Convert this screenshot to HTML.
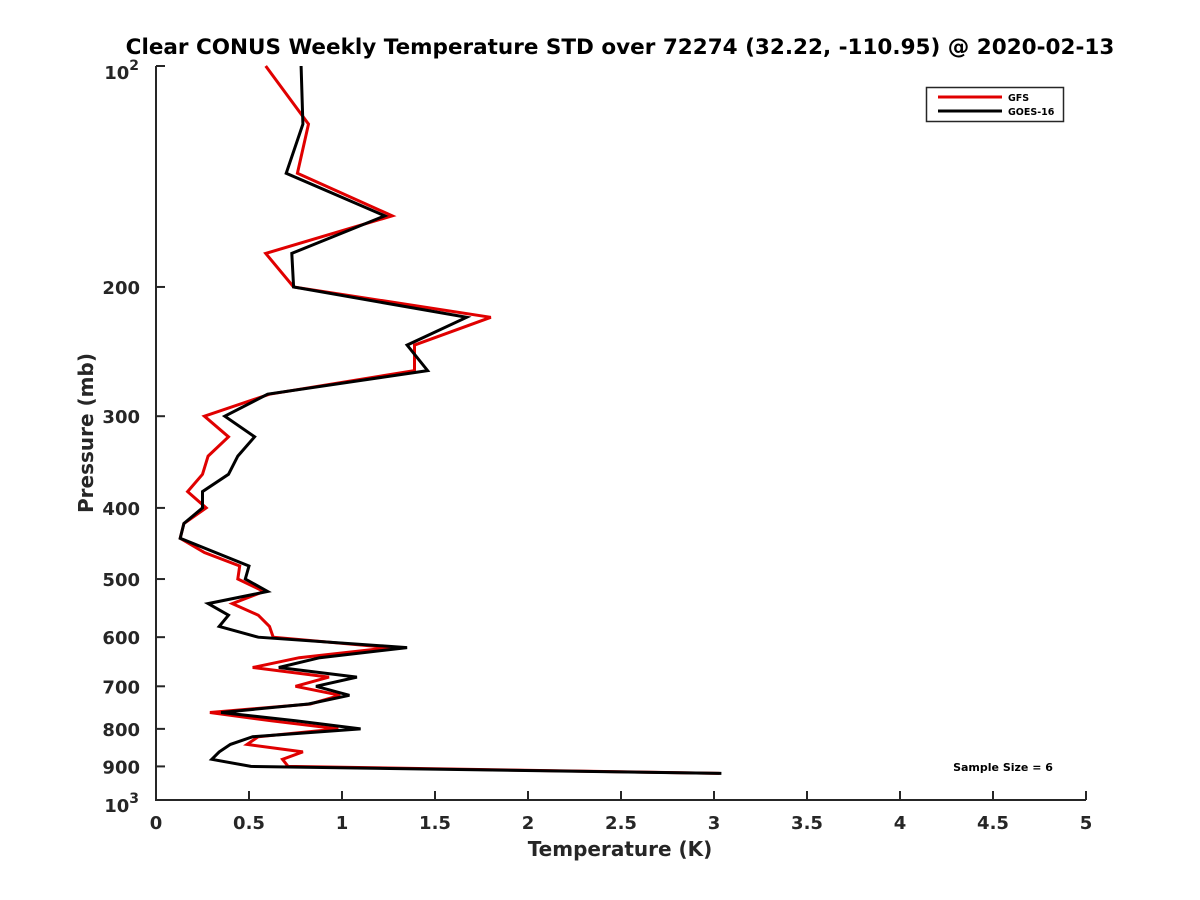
<!DOCTYPE html>
<html><head><meta charset="utf-8">
<style>
body{margin:0;background:#fff;}
svg{display:block;font-family:"DejaVu Sans","Liberation Sans",sans-serif;}
</style></head>
<body>
<svg id="chart" width="1200" height="900" viewBox="0 0 1200 900">
<rect width="1200" height="900" fill="#fff"/>
<text x="620" y="54" text-anchor="middle" font-size="21.5" font-weight="bold" fill="#000">Clear CONUS Weekly Temperature STD over 72274 (32.22, -110.95) @ 2020-02-13</text>
<g id="axes"></g>
<g id="series"></g>
<text x="620" y="856" text-anchor="middle" font-size="20" font-weight="bold" fill="#262626">Temperature (K)</text>
<text transform="translate(93,433) rotate(-90)" text-anchor="middle" font-size="20" font-weight="bold" fill="#262626">Pressure (mb)</text>
<g>
<rect x="926.5" y="87.5" width="137" height="34" fill="#fff" stroke="#262626" stroke-width="1.5"/>
<line x1="938" y1="97" x2="1002" y2="97" stroke="#e00000" stroke-width="3"/>
<text x="1008" y="101" font-size="9.5" font-weight="bold" fill="#000">GFS</text>
<line x1="938" y1="111" x2="1002" y2="111" stroke="#000" stroke-width="3"/>
<text x="1008" y="115" font-size="9.5" font-weight="bold" fill="#000">GOES-16</text>
</g>
<text x="1003" y="771" text-anchor="middle" font-size="11" font-weight="bold" fill="#000">Sample Size = 6</text>
</svg>
<script>
const levels = [100,120,140,160,180,200,220,240,260,280,300,320,340,360,380,400,420,440,460,480,500,520,540,560,580,600,620,640,660,680,700,720,740,760,780,800,820,840,860,880,900,920];
const gfsStd = [0.59,0.82,0.76,1.27,0.59,0.74,1.80,1.39,1.39,0.61,0.26,0.39,0.28,0.25,0.17,0.27,0.15,0.13,0.26,0.45,0.44,0.58,0.41,0.55,0.61,0.63,1.26,0.77,0.52,0.93,0.75,0.99,0.83,0.29,0.62,0.98,0.55,0.49,0.79,0.68,0.71,3.03];
const goesStd = [0.78,0.79,0.70,1.23,0.73,0.74,1.67,1.35,1.46,0.60,0.37,0.53,0.44,0.39,0.25,0.25,0.15,0.13,0.32,0.50,0.48,0.60,0.28,0.39,0.34,0.55,1.35,0.88,0.66,1.08,0.86,1.04,0.82,0.35,0.75,1.10,0.52,0.40,0.34,0.30,0.51,3.04];
const xTicks = [0,0.5,1,1.5,2,2.5,3,3.5,4,4.5,5];
const xTickLabels = ["0","0.5","1","1.5","2","2.5","3","3.5","4","4.5","5"];
const yTicks = [200,300,400,500,600,700,800,900];
const yTickLabels = ["200","300","400","500","600","700","800","900"];

const X0=156,X1=1086,Y0=66,Y1=800;
function xs(v){return X0+(v-0)/(5-0)*(X1-X0);}
function ys(p){return Y0+(Math.log10(p)-2)/(3-2)*(Y1-Y0);}
const NS="http://www.w3.org/2000/svg";
function mk(tag,attrs,parent){const e=document.createElementNS(NS,tag);for(const k in attrs)e.setAttribute(k,attrs[k]);parent.appendChild(e);return e;}
const axes=document.getElementById('axes');
const series=document.getElementById('series');

let yl=mk('line',{x1:X0,y1:Y0,x2:X0,y2:Y1+1,stroke:'#262626','stroke-width':2},axes);


let xl=mk('line',{x1:X0-1,y1:Y1,x2:X1,y2:Y1,stroke:'#262626','stroke-width':2},axes);



xTicks.forEach((v,i)=>{
  const x=xs(v);
  const t=mk('line',{x1:x,y1:Y1,x2:x,y2:Y1-9,stroke:'#262626','stroke-width':2},axes);
  
  
  const l=mk('text',{x:x,y:Y1+29,'text-anchor':'middle','font-size':18,'font-weight':'bold',fill:'#262626'},axes);
  l.textContent=xTickLabels[i];
  
  
});
[100,1000].forEach(p=>{
  const t=mk('line',{x1:X0,y1:ys(p),x2:X0+9,y2:ys(p),stroke:'#262626','stroke-width':2},axes);
  
  
});
yTicks.forEach((p,i)=>{
  const y=ys(p);
  const t=mk('line',{x1:X0,y1:y,x2:X0+9,y2:y,stroke:'#262626','stroke-width':2},axes);
  
  
  const l=mk('text',{x:X0-16,y:y+7,'text-anchor':'end','font-size':18,'font-weight':'bold',fill:'#262626'},axes);
  l.textContent=yTickLabels[i];
  
  
});
function decadeLabel(p,exp,dy){
  const y=ys(p);
  const l=mk('text',{x:X0-17,y:y+dy,'text-anchor':'end','font-size':18,'font-weight':'bold',fill:'#262626'},axes);
  l.textContent='10';
  const s=mk('tspan',{dy:-9,'font-size':14},l);
  s.textContent=exp;
  
  
}
decadeLabel(100,'2',13);
decadeLabel(1000,'3',12);

function drawLine(vals,color,name){
  const pts=vals.map((v,i)=>xs(v).toFixed(1)+','+ys(levels[i]).toFixed(1)).join(' ');
  const pl=mk('polyline',{points:pts,fill:'none',stroke:color,'stroke-width':3,'stroke-linejoin':'miter'},series);
  
  
}
drawLine(gfsStd,'#e00000','gfs-line');
drawLine(goesStd,'#000000','goes16-line');
</script>
</body></html>
